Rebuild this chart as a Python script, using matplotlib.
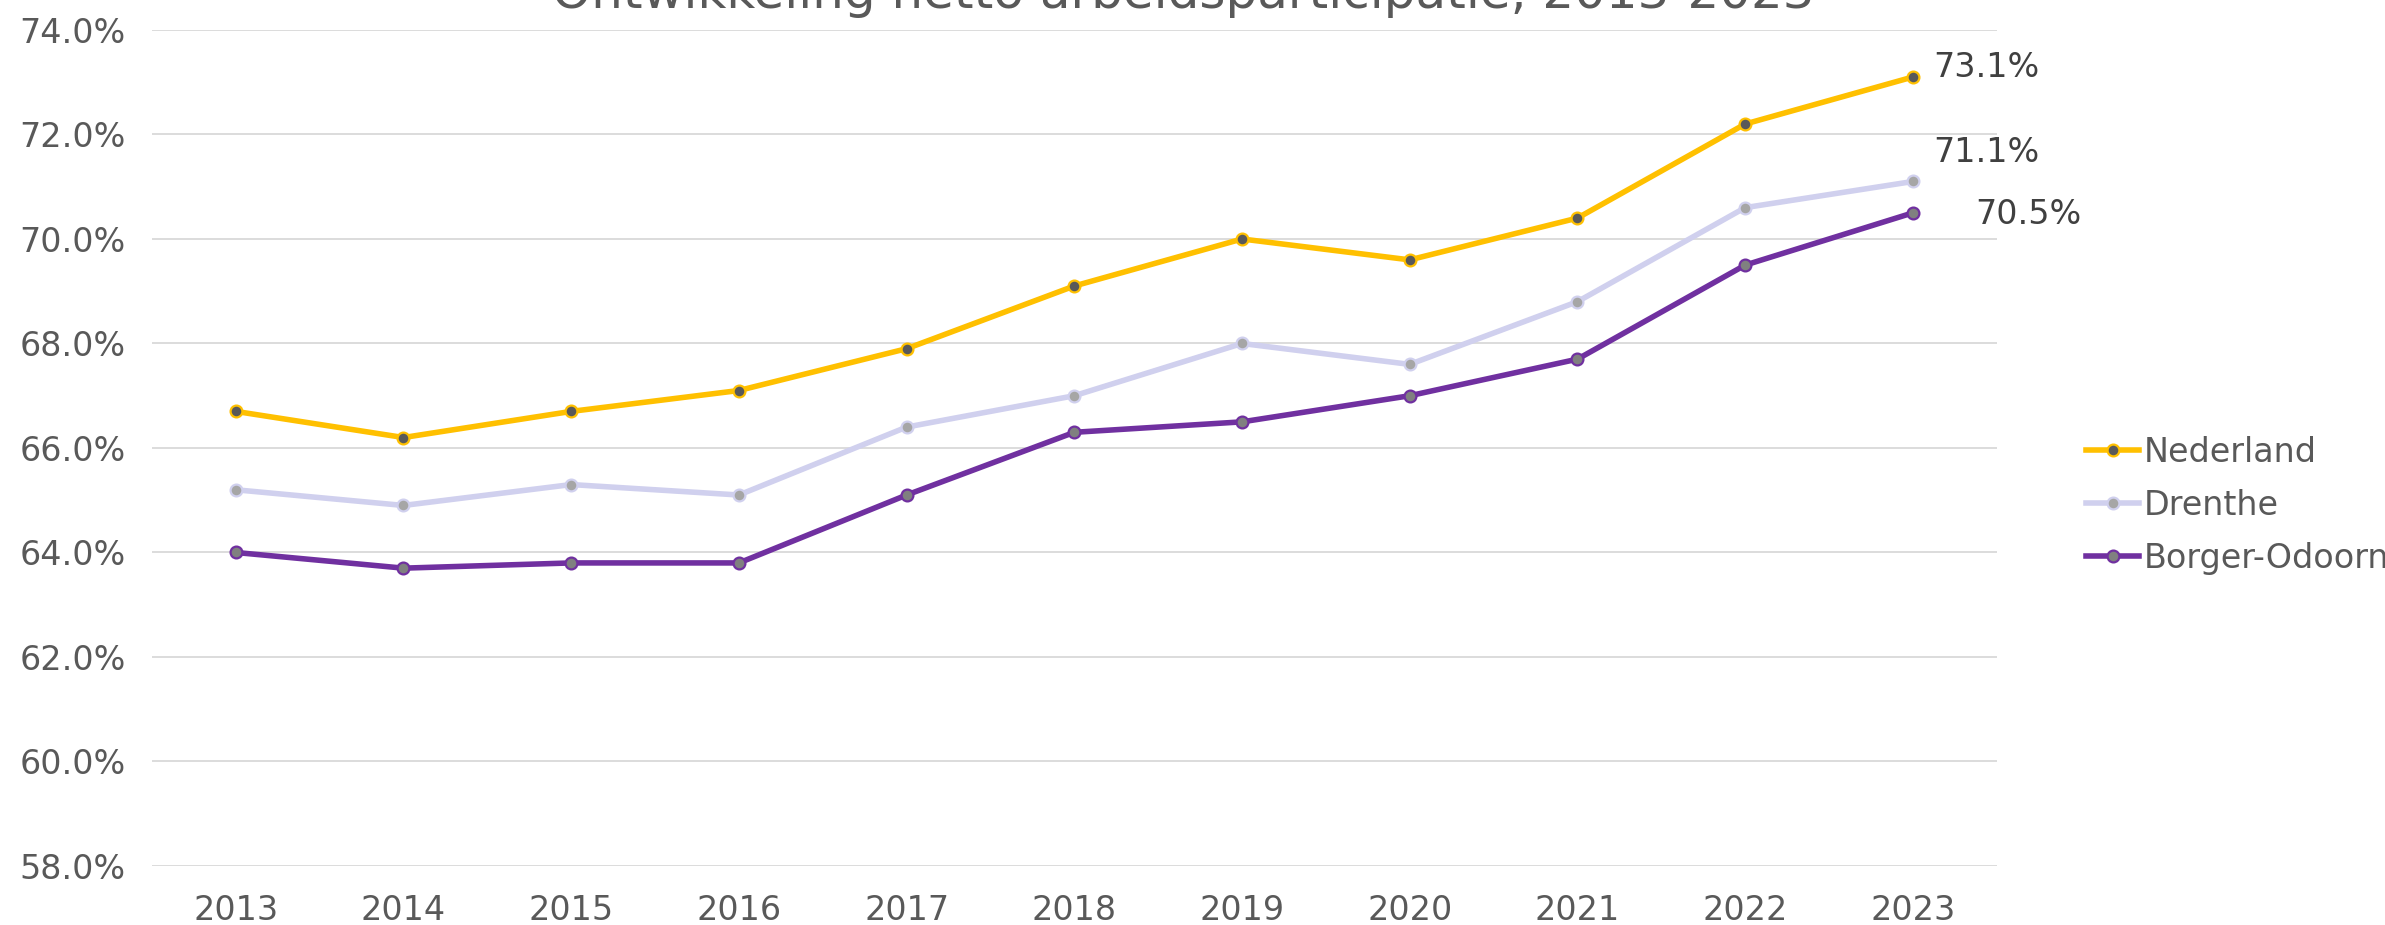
import matplotlib
matplotlib.use('Agg')
from matplotlib import pyplot as plt
from matplotlib.ticker import FuncFormatter

years = [2013, 2014, 2015, 2016, 2017, 2018, 2019, 2020, 2021, 2022, 2023]
nederland = [66.7, 66.2, 66.7, 67.1, 67.9, 69.1, 70.0, 69.6, 70.4, 72.2, 73.1]
drenthe = [65.2, 64.9, 65.3, 65.1, 66.4, 67.0, 68.0, 67.6, 68.8, 70.6, 71.1]
borger_odoorn = [64.0, 63.7, 63.8, 63.8, 65.1, 66.3, 66.5, 67.0, 67.7, 69.5, 70.5]
series_names = ['Nederland', 'Drenthe', 'Borger-Odoorn']
title = 'Ontwikkeling netto arbeidsparticipatie, 2013-2023'

plt.rcParams['font.family'] = ['DejaVu Sans']

fig = plt.figure(figsize=(23.85, 9.25), dpi=100)
ax = fig.add_axes([0.0637, 0.0638, 0.7735, 0.9038])

styles = [
    # line colour, marker fill
    ('#FFC000', '#595959'),
    ('#D0D0EE', '#A6A6A6'),
    ('#7030A0', '#808080'),
]
for vals, name, (lc, mc) in zip([nederland, drenthe, borger_odoorn], series_names, styles):
    ax.plot(years, vals, color=lc, lw=4, marker='o', ms=8.5,
            mfc=mc, mec=lc, mew=1.6, label=name, zorder=3)

# value labels on the last year
lab = dict(textcoords='offset points', fontsize=24, color='#404040', va='center', ha='left')
ax.annotate(f'{nederland[-1]:.1f}%', (years[-1], nederland[-1]), xytext=(15, 7), **lab)
ax.annotate(f'{drenthe[-1]:.1f}%', (years[-1], drenthe[-1]), xytext=(15, 21), **lab)
ax.annotate(f'{borger_odoorn[-1]:.1f}%', (years[-1], borger_odoorn[-1]), xytext=(45, -1), **lab)

ax.set_xlim(2012.5, 2023.5)
ax.set_ylim(58, 74)
ax.set_yticks(range(58, 75, 2))
ax.yaxis.set_major_formatter(FuncFormatter(lambda v, p: f'{v:.1f}%'))
ax.set_xticks(years)
ax.tick_params(axis='both', length=0, labelsize=24, colors='#595959')
ax.tick_params(axis='y', pad=19)
ax.tick_params(axis='x', pad=20)
ax.grid(axis='y', color='#D9D9D9', lw=1.3)
ax.set_axisbelow(True)
for s in ax.spines.values():
    s.set_visible(False)

leg = ax.legend(loc='center left', bbox_to_anchor=(0.862, 0.454), bbox_transform=fig.transFigure,
                frameon=False, fontsize=24, handlelength=1.6, handletextpad=0.15,
                labelspacing=0.6)
for t in leg.get_texts():
    t.set_color('#595959')

fig.text(0.496, 0.991, title, ha='center', va='baseline', fontsize=36, color='#595959')

fig.savefig('out.png', dpi=100)
